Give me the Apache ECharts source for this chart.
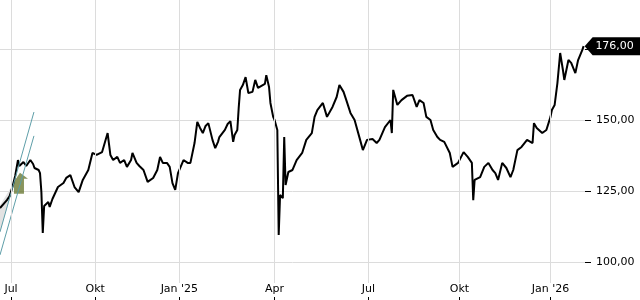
<!DOCTYPE html>
<html><head><meta charset="utf-8">
<script src="https://cdn.jsdelivr.net/npm/echarts@6/dist/echarts.min.js"></script>
<style>html,body{margin:0;padding:0;background:#fff}#c{width:640px;height:300px}</style>
</head><body><div id="c"></div>
<script>
// trading-day index of each reading
const days = [0,5,7,9,11,13,14,17,19,22,24,25,28,29,30,31,32,35,36,38,42,46,48,51,54,57,60,64,67,70,74,78,80,82,85,87,90,92,95,96,99,101,104,107,111,114,116,118,121,123,125,127,129,133,136,138,141,143,145,147,149,151,154,156,158,159,163,165,167,169,170,172,173,174,176,178,180,183,185,187,188,192,193,195,196,198,199,201,202,203,205,206,207,209,212,215,219,222,226,228,230,234,237,241,244,246,249,251,254,257,261,263,266,270,273,275,279,283,284,285,288,291,295,299,302,304,307,309,312,314,317,319,322,326,328,332,336,339,342,343,344,348,351,354,357,359,361,364,367,370,372,375,378,382,386,387,389,393,396,399,400,402,404,406,408,409,412,414,417,419,422,423];
const closes = [119.0,121.8,123.2,126.4,130.3,135.9,133.8,135.2,133.8,135.9,134.5,133.1,132.4,131.3,124.6,110.2,119.7,121.1,119.4,122.2,126.4,127.8,129.6,130.6,126.4,124.6,128.9,132.4,138.4,137.7,138.7,145.4,137.7,135.9,137.0,134.9,135.9,133.5,135.9,138.4,134.9,133.8,132.4,128.2,129.6,132.4,137.0,134.9,134.9,133.5,127.8,125.4,131.3,135.9,134.9,134.9,141.9,149.3,147.2,145.4,147.9,148.9,143.0,140.1,142.3,144.0,146.5,148.6,149.6,142.3,144.7,146.5,154.2,160.6,162.3,165.1,159.5,159.9,164.1,161.3,160.6,162.7,165.8,161.6,156.0,151.1,150.0,146.5,109.5,123.6,122.5,144.0,127.1,131.7,132.4,135.9,138.4,143.0,145.4,151.1,153.5,156.0,151.1,154.6,158.1,162.3,159.9,157.0,152.5,150.0,143.0,139.4,143.0,143.3,141.9,143.0,147.5,150.0,145.4,160.6,155.3,157.0,158.5,158.8,154.6,157.0,156.0,151.1,150.0,146.5,144.0,143.0,142.3,138.4,133.5,134.9,138.7,137.0,134.9,121.8,128.9,129.9,133.5,134.9,132.4,131.3,128.9,134.9,133.1,129.9,132.4,139.4,140.5,143.0,141.9,148.9,147.2,145.4,146.5,151.1,153.5,155.3,163.0,173.6,167.6,164.1,171.1,170.1,166.5,171.1,174.6,176.0];
const xTickDays = [8,69,130,199,267,333,399];
const xTickLabels = ['Jul','Okt',"Jan '25",'Apr','Jul','Okt',"Jan '26"];
const yTickValues = [100,125,150,175];
const yLabelValues = [100,125,150];
const lastValue = 176.0;
// drawing annotations (trend channel, shaded area, arrow) in data units
const channelA = [[0,110.6],[24.6,152.8]];
const channelB = [[0,102.5],[24.6,144.4]];
const shadeArea = [[0,120.0],[0,110.6],[10.9,128.5]];
const arrowAt = [15.2,127.7];

const fmt = v => v.toFixed(2).replace('.', ',');
const chart = echarts.init(document.getElementById('c'), null, {renderer:'canvas'});
const font = 'DejaVu Sans';
chart.setOption({
  animation:false,
  grid:{left:0,right:55,top:0,bottom:17,containLabel:false},
  xAxis:{type:'value',min:0,max:424,offset:14,
    axisLine:{show:false,onZero:false},
    axisTick:{show:true,length:3,lineStyle:{color:'#000'},customValues:xTickDays},
    axisLabel:{inside:true,margin:2,fontFamily:font,fontSize:11,color:'#000',customValues:xTickDays,
      formatter:v=>{const i=xTickDays.indexOf(Math.round(v));return i>=0?xTickLabels[i]:'';}},
    splitLine:{show:false}},
  yAxis:{type:'value',position:'right',min:92.61,max:192.25,
    axisLine:{show:false,onZero:false},
    axisTick:{show:true,length:6,lineStyle:{color:'#000'},customValues:yTickValues},
    axisLabel:{margin:11,fontFamily:font,fontSize:11,color:'#000',customValues:yLabelValues,formatter:fmt},
    splitLine:{show:true,lineStyle:{color:'#dcdcdc',width:1}}},
  series:[
    {type:'line',data:xTickDays.map(d=>[d,192.25]),symbol:'none',lineStyle:{width:0},silent:true,
      markLine:{symbol:'none',silent:true,label:{show:false},lineStyle:{color:'#dcdcdc',width:1,type:'solid'},
        data:xTickDays.map(d=>({xAxis:d}))}},
    {type:'custom',silent:true,z:1,data:[0],
      renderItem:(params,api)=>({type:'polygon',shape:{points:shadeArea.map(p=>api.coord(p))},style:{fill:'#e2e2e2'}})},
    {type:'line',data:days.map((d,i)=>[d,closes[i]]),symbol:'none',lineStyle:{color:'#000',width:2},z:3,
      markPoint:{silent:true,data:[{coord:[days[days.length-1],lastValue],value:fmt(lastValue)}],
        symbol:'path://M0,9 L8,0 L56,0 L56,18 L8,18 Z',symbolKeepAspect:false,symbolSize:[56,18],symbolOffset:[29,0],
        itemStyle:{color:'#000'},label:{show:true,color:'#fff',fontFamily:font,fontSize:11,offset:[2,0],formatter:fmt(lastValue)}}},
    {type:'line',data:channelA,symbol:'none',lineStyle:{color:'#5e9ea8',width:1},z:4,silent:true},
    {type:'line',data:channelB,symbol:'none',lineStyle:{color:'#5e9ea8',width:1},z:4,silent:true},
    {type:'scatter',data:[arrowAt],symbol:'path://M0,9 L6,0 L14,6 L10,6 L10,21 L0,21 Z',symbolSize:[14,21],
      itemStyle:{color:'#6b7a36'},z:2,silent:true}
  ]
});
</script></body></html>
